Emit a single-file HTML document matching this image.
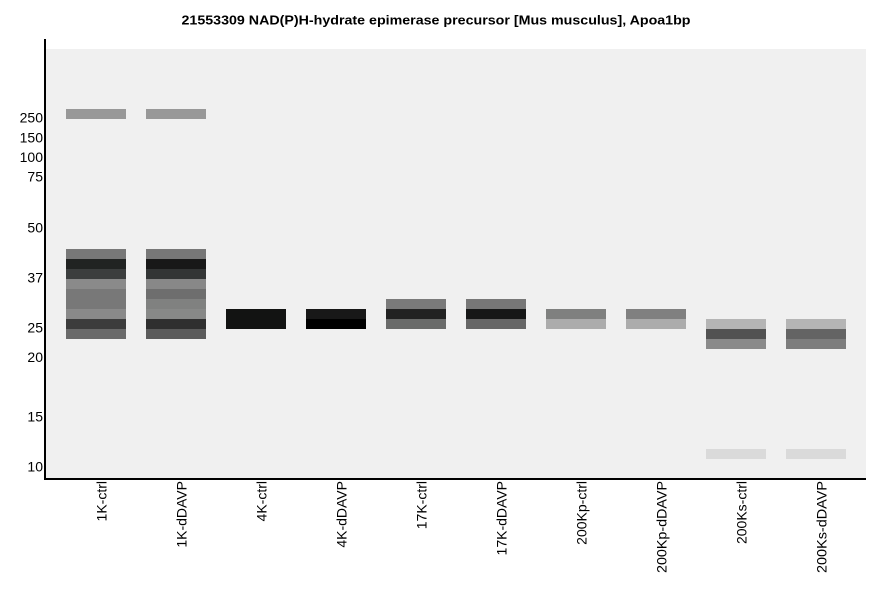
<!DOCTYPE html>
<html>
<head>
<meta charset="utf-8">
<style>
  html, body { margin: 0; padding: 0; background: #ffffff; }
  svg { display: block; }
  text { font-family: "Liberation Sans", Arial, sans-serif; fill: #000; }
</style>
</head>
<body>
<svg width="886" height="595" viewBox="0 0 886 595" xmlns="http://www.w3.org/2000/svg">
  <rect x="0" y="0" width="886" height="595" fill="#ffffff"/>
  <!-- title -->
  <text x="436" y="24.5" font-size="12.5" font-weight="bold" text-anchor="middle" textLength="509" lengthAdjust="spacingAndGlyphs">21553309 NAD(P)H-hydrate epimerase precursor [Mus musculus], Apoa1bp</text>

  <!-- plot background -->
  <rect x="46" y="49" width="820" height="429" fill="#f0f0f0"/>

  <!-- lane 1: 1K-ctrl -->
  <rect x="66" y="109" width="60" height="10" fill="#989898"/>
  <rect x="66" y="249" width="60" height="10" fill="#787878"/>
  <rect x="66" y="259" width="60" height="10" fill="#212322"/>
  <rect x="66" y="269" width="60" height="10" fill="#3c3e3e"/>
  <rect x="66" y="279" width="60" height="10" fill="#8a8a8a"/>
  <rect x="66" y="289" width="60" height="10" fill="#787878"/>
  <rect x="66" y="299" width="60" height="10" fill="#787878"/>
  <rect x="66" y="309" width="60" height="10" fill="#8a8a8a"/>
  <rect x="66" y="319" width="60" height="10" fill="#3c3c3c"/>
  <rect x="66" y="329" width="60" height="10" fill="#6a6a6a"/>

  <!-- lane 2: 1K-dDAVP -->
  <rect x="146" y="109" width="60" height="10" fill="#989898"/>
  <rect x="146" y="249" width="60" height="10" fill="#777777"/>
  <rect x="146" y="259" width="60" height="10" fill="#181818"/>
  <rect x="146" y="269" width="60" height="10" fill="#333535"/>
  <rect x="146" y="279" width="60" height="10" fill="#888888"/>
  <rect x="146" y="289" width="60" height="10" fill="#6e6e6e"/>
  <rect x="146" y="299" width="60" height="10" fill="#808180"/>
  <rect x="146" y="309" width="60" height="10" fill="#888988"/>
  <rect x="146" y="319" width="60" height="10" fill="#2f2f2f"/>
  <rect x="146" y="329" width="60" height="10" fill="#5b5b5b"/>

  <!-- lane 3: 4K-ctrl -->
  <rect x="226" y="309" width="60" height="20" fill="#121312"/>

  <!-- lane 4: 4K-dDAVP -->
  <rect x="306" y="309" width="60" height="10" fill="#181818"/>
  <rect x="306" y="319" width="60" height="10" fill="#000000"/>

  <!-- lane 5: 17K-ctrl -->
  <rect x="386" y="299" width="60" height="10" fill="#7a7a7a"/>
  <rect x="386" y="309" width="60" height="10" fill="#222222"/>
  <rect x="386" y="319" width="60" height="10" fill="#6a6b6a"/>

  <!-- lane 6: 17K-dDAVP -->
  <rect x="466" y="299" width="60" height="10" fill="#777777"/>
  <rect x="466" y="309" width="60" height="10" fill="#161717"/>
  <rect x="466" y="319" width="60" height="10" fill="#666666"/>

  <!-- lane 7: 200Kp-ctrl -->
  <rect x="546" y="309" width="60" height="10" fill="#7f807f"/>
  <rect x="546" y="319" width="60" height="10" fill="#acacac"/>

  <!-- lane 8: 200Kp-dDAVP -->
  <rect x="626" y="309" width="60" height="10" fill="#808080"/>
  <rect x="626" y="319" width="60" height="10" fill="#acacac"/>

  <!-- lane 9: 200Ks-ctrl -->
  <rect x="706" y="319" width="60" height="10" fill="#b5b5b5"/>
  <rect x="706" y="329" width="60" height="10" fill="#525252"/>
  <rect x="706" y="339" width="60" height="10" fill="#8a8a8a"/>
  <rect x="706" y="449" width="60" height="10" fill="#dadada"/>

  <!-- lane 10: 200Ks-dDAVP -->
  <rect x="786" y="319" width="60" height="10" fill="#b5b5b5"/>
  <rect x="786" y="329" width="60" height="10" fill="#646464"/>
  <rect x="786" y="339" width="60" height="10" fill="#7d7d7d"/>
  <rect x="786" y="449" width="60" height="10" fill="#dadada"/>

  <!-- axes -->
  <rect x="44" y="39" width="2" height="441" fill="#000"/>
  <rect x="44" y="478" width="822" height="2" fill="#000"/>

  <!-- y tick labels -->
  <g font-size="14" text-anchor="end">
    <text x="43" y="122.5">250</text>
    <text x="43" y="142.3">150</text>
    <text x="43" y="162">100</text>
    <text x="43" y="181.7">75</text>
    <text x="43" y="232.5">50</text>
    <text x="43" y="282.3">37</text>
    <text x="43" y="332.3">25</text>
    <text x="43" y="362">20</text>
    <text x="43" y="421.7">15</text>
    <text x="43" y="471.7">10</text>
  </g>

  <!-- x lane labels -->
  <g font-size="14" text-anchor="end">
    <text transform="translate(106.5,481) rotate(-90)">1K-ctrl</text>
    <text transform="translate(186.5,481) rotate(-90)">1K-dDAVP</text>
    <text transform="translate(266.5,481) rotate(-90)">4K-ctrl</text>
    <text transform="translate(346.5,481) rotate(-90)">4K-dDAVP</text>
    <text transform="translate(426.5,481) rotate(-90)">17K-ctrl</text>
    <text transform="translate(506.5,481) rotate(-90)">17K-dDAVP</text>
    <text transform="translate(586.5,481) rotate(-90)">200Kp-ctrl</text>
    <text transform="translate(666.5,481) rotate(-90)" textLength="92" lengthAdjust="spacingAndGlyphs">200Kp-dDAVP</text>
    <text transform="translate(746.5,481) rotate(-90)">200Ks-ctrl</text>
    <text transform="translate(826.5,481) rotate(-90)" textLength="92" lengthAdjust="spacingAndGlyphs">200Ks-dDAVP</text>
  </g>
</svg>
</body>
</html>
